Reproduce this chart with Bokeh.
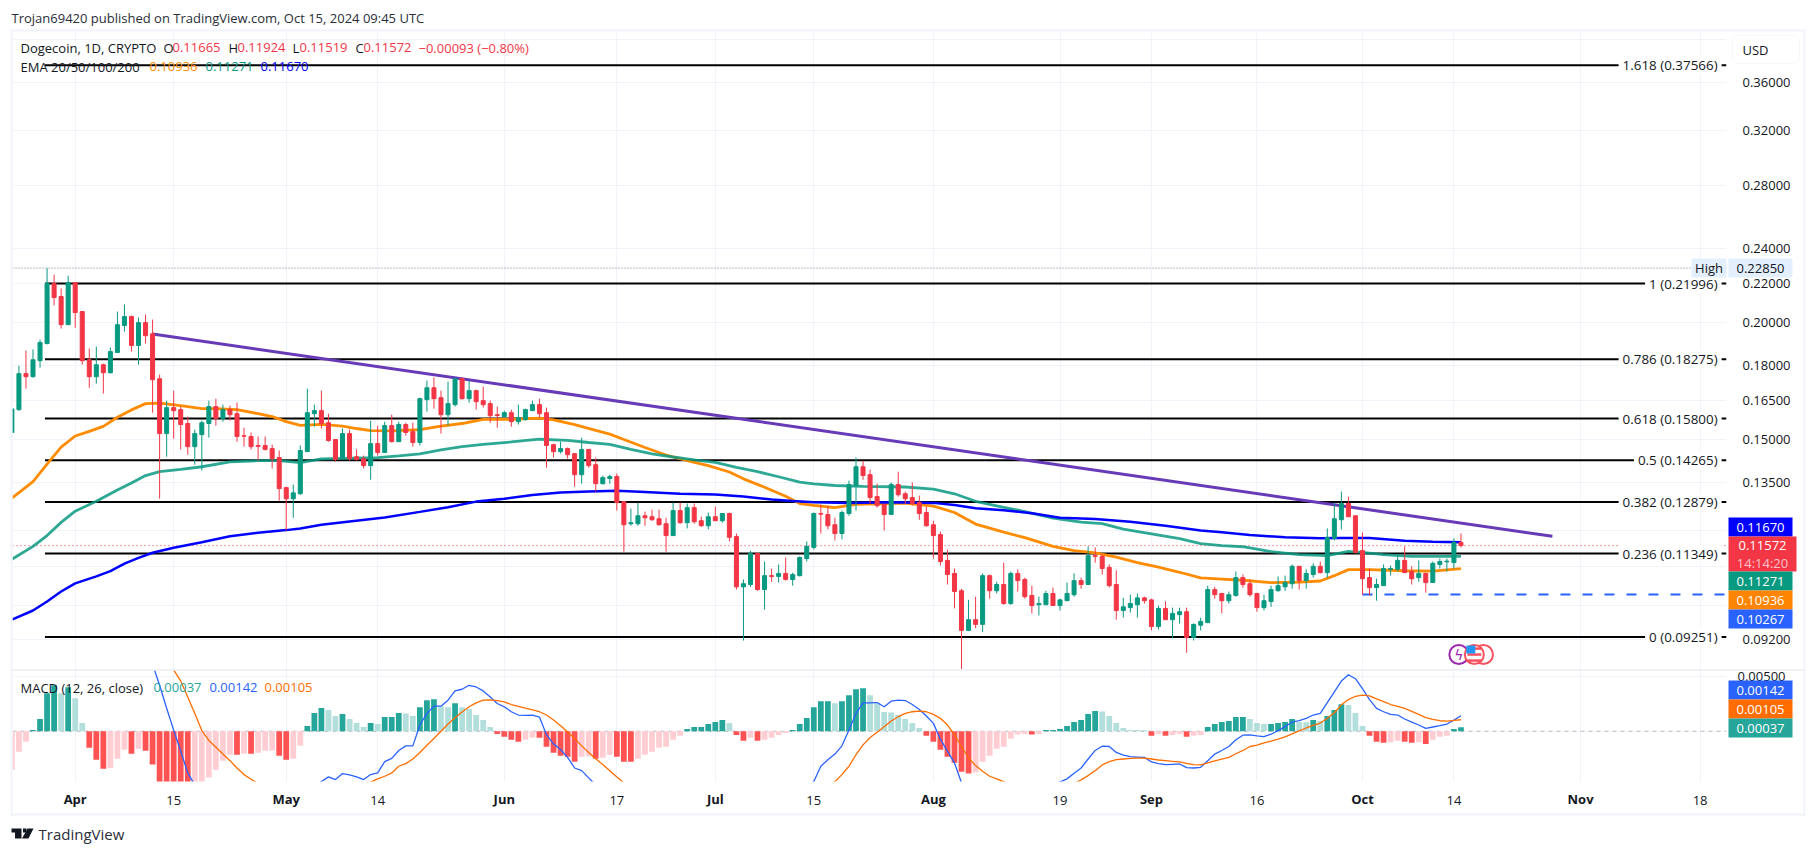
from bokeh.plotting import figure
from bokeh.layouts import column, row
from bokeh.embed import file_html
from bokeh.resources import INLINE
from bokeh.core.properties import value
from bokeh.models import (ColumnDataSource, FixedTicker, Grid, Label, BoxAnnotation,
                          PolyAnnotation, PrintfTickFormatter)

# ---- candles: one row of ten per block, first day = 23 Mar (day -9), day 0 = 1 Apr ----
first_day = -9
opens = [
 .1527,.1615,.1764,.1751,.1821,.1899,.2200,.2131,.1989,.2205,
 .2054,.1825,.1751,.1803,.1768,.1858,.1985,.2029,.1890,.1999,
 .1945,.1742,.1523,.1623,.1615,.1561,.1475,.1519,.1561,.1627,
 .1580,.1615,.1599,.1515,.1512,.1479,.1479,.1468,.1436,.1334,
 .1298,.1314,.1457,.1599,.1611,.1564,.1501,.1432,.1523,.1439,
 .1432,.1408,.1486,.1454,.1553,.1493,.1557,.1530,.1490,.1655,
 .1704,.1663,.1595,.1635,.1742,.1659,.1692,.1651,.1639,.1595,
 .1588,.1603,.1568,.1576,.1611,.1635,.1603,.1482,.1457,.1468,
 .1450,.1377,.1465,.1411,.1347,.1364,.1371,.1289,.1221,.1221,
 .1245,.1242,.1236,.1221,.1186,.1261,.1224,.1270,.1230,.1215,
 .1242,.1230,.1252,.1183,.1046,.1052,.1135,.1039,.1075,.1073,
 .1081,.1065,.1075,.1121,.1152,.1252,.1249,.1218,.1192,.1252,
 .1341,.1404,.1377,.1305,.1280,.1249,.1344,.1314,.1302,.1286,
 .1255,.1218,.1189,.1116,.1081,.1036,.0940,.0965,.0954,.1075,
 .1036,.1052,.1004,.1081,.1065,.1024,.1001,.1001,.1029,.0999,
 .1011,.1026,.1062,.1052,.1129,.1127,.1097,.1052,.0987,.0994,
 .1001,.1018,.1013,.0949,.0992,.0965,.0977,.0984,.0924,.0952,
 .0958,.1039,.1029,.1011,.1024,.1070,.1054,.1029,.0994,.1009,
 .1036,.1046,.1054,.1100,.1062,.1078,.1100,.1083,.1178,.1233,
 .1283,.1245,.1143,.1070,.1044,.1049,.1092,.1092,.1116,.1086,
 .1070,.1081,.1057,.1105,.1112,.1110,.11665]
highs = [
 .1618,.1799,.1867,.1872,.1918,.2285,.2249,.2173,.2243,.2205,
 .2054,.1876,.1885,.1808,.1881,.2054,.2090,.2034,.2024,.2039,
 .2014,.1760,.1651,.1692,.1627,.1588,.1538,.1572,.1651,.1659,
 .1635,.1631,.1643,.1545,.1527,.1512,.1512,.1482,.1461,.1337,
 .1344,.1479,.1700,.1635,.1692,.1599,.1501,.1542,.1538,.1465,
 .1443,.1572,.1553,.1568,.1595,.1568,.1564,.1564,.1663,.1734,
 .1747,.1692,.1730,.1742,.1747,.1734,.1696,.1709,.1651,.1627,
 .1611,.1615,.1635,.1619,.1651,.1659,.1623,.1486,.1493,.1472,
 .1450,.1508,.1465,.1436,.1374,.1377,.1381,.1289,.1267,.1286,
 .1258,.1264,.1264,.1239,.1286,.1286,.1283,.1283,.1242,.1255,
 .1273,.1252,.1255,.1192,.1065,.1143,.1138,.1113,.1094,.1105,
 .1124,.1083,.1127,.1169,.1255,.1280,.1276,.1239,.1261,.1357,
 .1436,.1425,.1394,.1347,.1280,.1351,.1387,.1321,.1351,.1308,
 .1273,.1230,.1198,.1146,.1094,.1041,.1013,.1021,.1081,.1078,
 .1059,.1110,.1086,.1092,.1070,.1049,.1021,.1036,.1044,.1016,
 .1057,.1081,.1070,.1155,.1152,.1135,.1105,.1089,.1018,.1026,
 .1029,.1021,.1016,.0999,.1009,.0994,.0994,.0994,.0956,.0970,
 .1049,.1046,.1031,.1034,.1086,.1078,.1065,.1031,.1026,.1049,
 .1073,.1075,.1105,.1100,.1092,.1108,.1113,.1207,.1286,.1321,
 .1305,.1245,.1195,.1094,.1067,.1105,.1102,.1132,.1155,.1100,
 .1116,.1083,.1113,.1121,.1121,.1178,.11924]
lows = [
 .1527,.1611,.1700,.1747,.1790,.1895,.2085,.1970,.1989,.1974,
 .1803,.1704,.1721,.1680,.1764,.1858,.1955,.1862,.1803,.1899,
 .1603,.1298,.1439,.1504,.1465,.1446,.1411,.1391,.1508,.1553,
 .1568,.1572,.1493,.1475,.1465,.1425,.1461,.1398,.1292,.1201,
 .1239,.1311,.1457,.1549,.1542,.1493,.1422,.1429,.1425,.1425,
 .1398,.1360,.1443,.1454,.1490,.1493,.1515,.1475,.1479,.1607,
 .1619,.1523,.1553,.1627,.1655,.1643,.1615,.1623,.1564,.1545,
 .1588,.1549,.1557,.1572,.1611,.1584,.1401,.1436,.1450,.1432,
 .1337,.1347,.1401,.1321,.1344,.1347,.1261,.1140,.1215,.1215,
 .1215,.1230,.1215,.1140,.1186,.1221,.1207,.1221,.1212,.1204,
 .1230,.1224,.1169,.1039,.0917,.1046,.1036,.0989,.1059,.1057,
 .1062,.1049,.1073,.1113,.1146,.1192,.1204,.1172,.1175,.1245,
 .1261,.1360,.1283,.1270,.1201,.1249,.1305,.1283,.1276,.1233,
 .1212,.1121,.1102,.1052,.0992,.0854,.0940,.0945,.0936,.1016,
 .1029,.1001,.1001,.1034,.1016,.0980,.0975,.1001,.0999,.0987,
 .1011,.1021,.1041,.1052,.1110,.1078,.1044,.0965,.0970,.0982,
 .0970,.1004,.0940,.0942,.0965,.0922,.0956,.0890,.0917,.0940,
 .0958,.1016,.0980,.1004,.1021,.1044,.1021,.0984,.0987,.0996,
 .1034,.1036,.1041,.1039,.1041,.1070,.1081,.1070,.1172,.1204,
 .1242,.1135,.1026,.1024,.1011,.1049,.1075,.1086,.1083,.1052,
 .1059,.1031,.1057,.1094,.1086,.1094,.11519]
closes = [
 .1618,.1764,.1751,.1825,.1904,.2200,.2126,.1989,.2205,.2049,
 .1821,.1751,.1803,.1768,.1862,.1989,.2029,.1890,.1999,.1936,
 .1738,.1523,.1623,.1611,.1557,.1475,.1523,.1564,.1627,.1580,
 .1615,.1595,.1512,.1513,.1475,.1476,.1465,.1432,.1331,.1298,
 .1317,.1461,.1603,.1611,.1561,.1497,.1429,.1523,.1432,.1429,
 .1408,.1486,.1454,.1553,.1493,.1557,.1527,.1490,.1659,.1704,
 .1659,.1595,.1639,.1742,.1659,.1692,.1647,.1635,.1591,.1592,
 .1603,.1568,.1584,.1615,.1635,.1599,.1479,.1457,.1468,.1446,
 .1377,.1465,.1408,.1347,.1367,.1371,.1286,.1218,.1224,.1245,
 .1239,.1233,.1218,.1186,.1261,.1224,.1270,.1227,.1215,.1242,
 .1230,.1252,.1181,.1046,.1054,.1135,.1039,.1075,.1073,.1081,
 .1065,.1078,.1124,.1155,.1252,.1250,.1215,.1192,.1255,.1344,
 .1404,.1374,.1302,.1276,.1249,.1344,.1311,.1298,.1283,.1252,
 .1215,.1186,.1113,.1078,.1034,.0940,.0965,.0954,.1075,.1036,
 .1052,.1004,.1081,.1062,.1021,.0999,.1004,.1029,.0999,.1013,
 .1029,.1062,.1052,.1129,.1127,.1094,.1049,.0987,.0996,.1004,
 .1018,.1011,.0949,.0992,.0965,.0980,.0984,.0924,.0954,.0961,
 .1039,.1026,.1011,.1026,.1070,.1052,.1026,.0994,.1011,.1039,
 .1049,.1057,.1100,.1062,.1081,.1100,.1083,.1181,.1236,.1283,
 .1242,.1138,.1067,.1044,.1052,.1094,.1094,.1116,.1083,.1067,
 .1081,.1057,.1108,.1113,.1114,.1166,.11572]

# ---- EMAs ----
ema_orange_days = [-9,-6,-4,-2,0,2,4,6,8,10,12,15,18,20,23,26,28,30,32,35,38,40,42,45,49,52,55,58,62,66,68,71,74,76,78,81,84,87,90,93,95,98,101,103,105,108,111,114,118,122,125,128,132,135,139,142,145,148,151,154,157,160,163,166,170,174,177,179,181,184,189,193,197]
ema_orange = [.1300,.1354,.1413,.1473,.1514,.1531,.1550,.1585,.1614,.1639,.1641,.1631,.1619,.1619,.1615,.1599,.1588,.1568,.1554,.1558,.1551,.1542,.1534,.1533,.1538,.1551,.1561,.1577,.1577,.1582,.1575,.1557,.1535,.1521,.1501,.1472,.1445,.1425,.1408,.1386,.1363,.1335,.1306,.1283,.1277,.1270,.1280,.1282,.1284,.1275,.1255,.1220,.1196,.1180,.1155,.1143,.1137,.1125,.1110,.1098,.1084,.1069,.1066,.1063,.1057,.1058,.1061,.1075,.1091,.1091,.1088,.1087,.10936]
ema_green_days = [-9,-6,-4,-2,0,3,6,8,10,12,15,18,22,26,29,32,35,38,43,46,49,52,55,58,62,66,70,73,76,79,82,85,88,91,94,97,100,103,105,108,112,118,122,125,128,132,135,139,143,146,149,153,157,160,163,166,170,174,178,181,183,186,190,197]
ema_green = [.1119,.1155,.1186,.1225,.1259,.1290,.1326,.1349,.1374,.1387,.1395,.1404,.1421,.1425,.1425,.1418,.1431,.1433,.1436,.1442,.1449,.1463,.1475,.1483,.1492,.1502,.1498,.1490,.1483,.1465,.1449,.1438,.1428,.1419,.1402,.1387,.1370,.1352,.1346,.1341,.1338,.1336,.1329,.1314,.1290,.1271,.1258,.1238,.1226,.1221,.1205,.1191,.1177,.1163,.1157,.1154,.1140,.1132,.1129,.1141,.1138,.1132,.1127,.11271]
ema_blue_days = [-9,-6,-4,-2,0,3,5,7,9,11,14,18,22,26,30,32,35,39,44,49,53,57,61,65,69,73,77,81,86,91,95,99,102,105,110,116,122,125,128,132,136,140,145,150,155,160,163,167,172,177,180,184,189,193,197]
ema_blue = [.0965,.0987,.1009,.1034,.1055,.1073,.1087,.1107,.1123,.1137,.1151,.1167,.1184,.1194,.1202,.1207,.1218,.1228,.1240,.1257,.1271,.1289,.1298,.1310,.1318,.1321,.1324,.1320,.1314,.1312,.1305,.1296,.1291,.1287,.1285,.1287,.1285,.1278,.1268,.1262,.1253,.1239,.1235,.1227,.1215,.1201,.1196,.1188,.1181,.1178,.1179,.1179,.1171,.1168,.11670]

# ---- Fibonacci levels and other price lines ----
fib_names = ["1.618","1","0.786","0.618","0.5","0.382","0.236","0"]
fib_prices = [.37566,.21996,.18275,.15800,.14265,.12879,.11349,.09251]
fib_text = ["1.618 (0.37566)","1 (0.21996)","0.786 (0.18275)","0.618 (0.15800)","0.5 (0.14265)","0.382 (0.12879)","0.236 (0.11349)","0 (0.09251)"]
trend_days = [11, 210]
trend_prices = [.1944, .1184]
last_price = .11572
high_price = .22850
support_price = .10267
support_start = 183

# ---- axis ticks ----
price_ticks = [.36,.32,.28,.24,.22,.20,.18,.165,.15,.135,.092]
price_grid = [.40,.36,.32,.28,.24,.22,.20,.18,.165,.15,.135,.12,.11,.10,.092]
day_ticks = [14,43,77,105,140,168,196,231]
day_labels = ["15","14","17","15","19","16","14","18"]
month_ticks = [0,30,61,91,122,153,183,214]
month_labels = ["Apr","May","Jun","Jul","Aug","Sep","Oct","Nov"]

# ---- MACD ----
macd_hist = [
 -.0035,-.00187,-.00096,.00012,.00112,.00347,.00419,.00347,.00401,.00301,
 .00075,-.00151,-.00259,-.00341,-.00336,-.00250,-.00169,-.00205,-.00160,-.00178,
 -.00304,-.0050,-.0053,-.0055,-.0056,-.0058,-.0054,-.0049,-.00422,-.00350,
 -.00268,-.00214,-.00214,-.00205,-.00205,-.00196,-.00178,-.00175,-.00223,-.00259,
 -.00250,-.00133,.00048,.00166,.00211,.00193,.00139,.00157,.00112,.00075,
 .00039,.00075,.00066,.00130,.00130,.00166,.00163,.00139,.00220,.00283,
 .00292,.00229,.00220,.00256,.00220,.00202,.00148,.00102,.00039,-.00024,
 -.00051,-.00078,-.00096,-.00078,-.00060,-.00060,-.00142,-.00196,-.00223,-.00232,
 -.00277,-.00232,-.00228,-.00250,-.00241,-.00214,-.00232,-.00277,-.00277,-.00250,
 -.00214,-.00187,-.00151,-.00142,-.00078,-.00042,.00021,.00039,.00039,.00066,
 .00084,.00102,.00075,-.00033,-.00087,-.00060,-.00087,-.00078,-.00060,-.00033,
 -.00015,.00012,.00066,.00121,.00220,.00274,.00274,.00256,.00274,.00329,
 .00383,.00392,.00329,.00256,.00175,.00170,.00148,.00112,.00075,.00030,
 -.00042,-.00096,-.00169,-.00232,-.00286,-.00368,-.00386,-.00377,-.00277,-.00223,
 -.00160,-.00142,-.00069,-.00030,-.00024,-.00030,-.00024,.00012,.00012,.00021,
 .00048,.00084,.00102,.00157,.00184,.00180,.00139,.00075,.00030,.00012,
 .00011,.00010,-.00042,-.00024,-.00042,-.00033,-.00024,-.00051,-.00042,-.00033,
 .00039,.00066,.00084,.00093,.00130,.00130,.00112,.00075,.00066,.00066,
 .00075,.00084,.00112,.00084,.00082,.00102,.00093,.00139,.00193,.00247,
 .00240,.00166,.00048,-.00042,-.00096,-.00105,-.00100,-.00087,-.00096,-.00105,
 -.00100,-.00115,-.00078,-.00051,-.00042,.00021,.00037]

macd_days = [8,10,11,12,13,14,15,16,17,18,25,30] + list(range(35,75)) + [80,90,100] + list(range(105,127)) + [130,135] + list(range(141,198))
macd_line = [.0075,.0064,.0061,.0042,.0021,.0001,-.0018,-.0038,-.0049,-.0055,-.0075,-.0068,
 -.00458,-.00416,-.00440,-.00386,-.00398,-.00416,-.00440,-.00395,-.00380,-.00277,-.00247,-.00175,-.00133,-.00133,.00057,.00163,.00229,.00229,.00283,.00368,.00383,.00419,.00404,.00368,.00313,.00253,
 .00223,.00178,.00148,.00145,.00148,.00130,-.00033,-.00115,-.00166,-.00238,-.00335,-.00359,-.00425,-.0049,
 -.0085,-.0080,-.0065,
 -.00458,-.00319,-.00259,-.00208,-.00133,.00012,.00163,.00259,.00259,.00262,.00223,.00274,.00283,.00280,.00244,.00199,.00139,.00072,-.00072,-.00184,-.00289,-.0047,
 -.0075,-.0060,
 -.00434,-.00383,-.00335,-.00253,-.00175,-.00136,-.00139,-.00193,-.00217,-.00232,-.00235,-.00238,-.00280,-.00295,-.00304,-.00301,-.00298,-.00332,-.00335,-.00329,-.00268,-.00208,-.00175,-.00139,-.00078,-.00036,-.00033,-.00042,-.00048,-.00027,.00006,.00042,.00084,.00096,.00118,.00148,.00163,.00262,.00359,.00458,.00515,.00479,.00389,.00289,.00208,.00178,.00154,.00148,.00112,.00084,.00057,.00027,.00039,.00051,.00066,.00102,.00142]

signal_days = [12,14] + list(range(15,27)) + [30,36,40] + list(range(42,79)) + [85,95,103] + list(range(108,134)) + [137,140] + list(range(142,198))
signal_line = [.0066,.0056,.00458,.00313,.00163,.00006,-.00084,-.00145,-.00208,-.00268,-.00335,-.00395,-.00437,-.00476,
 -.0058,-.0056,-.0050,
 -.00464,-.00434,-.00410,-.00380,-.00319,-.00295,-.00253,-.00193,-.00127,-.00066,.00000,.00066,.00124,.00175,.00223,.00259,.00283,.00286,.00280,
 .00268,.00244,.00226,.00211,.00196,.00178,.00148,.00102,.00051,-.00006,-.00066,-.00133,-.00193,-.00250,-.00304,-.00359,-.00416,-.0047,
 -.0065,-.0075,-.0060,
 -.0046,-.00395,-.00319,-.00214,-.00124,-.00057,-.00009,.00042,.00093,.00133,.00163,.00178,.00184,.00178,.00154,.00118,.00057,-.00033,-.00139,-.00244,-.00313,-.00365,-.00410,-.00434,-.0046,-.0049,
 -.0052,-.0049,
 -.00476,-.00443,-.00404,-.00359,-.00307,-.00277,-.00259,-.00253,-.00247,-.00244,-.00244,-.00253,-.00262,-.00268,-.00274,-.00280,-.00292,-.00304,-.00307,-.00289,-.00271,-.00253,-.00238,-.00205,-.00175,-.00139,-.00127,-.00105,-.00090,-.00072,-.00051,-.00024,.00003,.00030,.00054,.00075,.00118,.00169,.00241,.00289,.00319,.00329,.00322,.00295,.00271,.00244,.00226,.00208,.00181,.00154,.00124,.00109,.00096,.00093,.00099,.00105]

UP, DOWN = "#089981", "#f23645"
GRID = "#f0f3fa"
INK = "#131722"
FONT = "Open Sans"
W = 1806
x_lo, x_hi = -8.914, 234.75

days = list(range(first_day, first_day + len(opens)))
colors = [UP if c >= o else DOWN for o, c in zip(opens, closes)]
candles = ColumnDataSource(dict(day=days, o=opens, h=highs, l=lows, c=closes, color=colors))

# ---------------- main pane ----------------
p = figure(width=W, height=669, y_axis_type="log", x_range=(x_lo, x_hi), y_range=(.08541, .4081),
           x_axis_location=None, y_axis_location="right", toolbar_location=None,
           output_backend="svg", min_border_left=12, min_border_right=80, min_border_top=31, min_border_bottom=0)
p.outline_line_color = None
p.grid.grid_line_color = None
all_days = sorted(day_ticks + month_ticks)
p.add_layout(Grid(dimension=0, ticker=FixedTicker(ticks=all_days), grid_line_color=GRID, grid_line_width=1))
p.add_layout(Grid(dimension=1, ticker=FixedTicker(ticks=price_grid), grid_line_color=GRID, grid_line_width=1))
ax = p.yaxis[0]
ax.ticker = FixedTicker(ticks=price_ticks)
ax.formatter = PrintfTickFormatter(format="%.5f")
ax.axis_line_color = None
ax.major_tick_line_color = None
ax.minor_tick_line_color = None
ax.major_label_text_font = FONT
ax.major_label_text_font_size = "13px"
ax.major_label_text_color = INK
ax.major_label_standoff = 10

p.segment(x0=[x_lo], x1=[x_hi], y0=[high_price], y1=[high_price], line_color="#787b86", line_dash="1 2", line_width=1)
p.segment(x0=[x_lo], x1=[x_hi], y0=[last_price], y1=[last_price], line_color=DOWN, line_dash="1 3", line_width=1)

for name, price, label_text in zip(fib_names, fib_prices, fib_text):
    p.segment(x0=[-4.3], x1=[x_hi], y0=[price], y1=[price], line_color="black", line_width=2)
    p.add_layout(Label(x=234.05, y=price, text=label_text, text_align="right", text_baseline="middle",
                       text_font=FONT, text_font_size="13.4px", text_color=INK,
                       background_fill_color="white", padding=(4, 0)))

p.segment(x0=[support_start], x1=[x_hi], y0=[support_price], y1=[support_price],
          line_color="#2962ff", line_width=2, line_dash="10 12")
p.line(ema_orange_days, ema_orange, line_color="#ff8c00", line_width=2.8)
p.line(ema_green_days, ema_green, line_color="#089981", line_width=2.8, line_alpha=.85)
p.line(ema_blue_days, ema_blue, line_color="#0000ff", line_width=2.5)
p.line(trend_days, trend_prices, line_color="#673ab7", line_width=3)

p.segment(x0="day", x1="day", y0="l", y1="h", line_color="color", line_width=1, source=candles)
p.vbar(x="day", width=.57, bottom="o", top="c", fill_color="color", line_color="color", line_width=1, source=candles)

# event icons
ev_y = .0886
p.scatter([196.7], [ev_y], size=19, marker="circle", fill_color="white", line_color="#9c27b0", line_width=2)
p.text([196.7], [ev_y], text=["ϟ"], text_color="#9c27b0", text_align="center", text_baseline="middle",
       text_font=value("DejaVu Sans"), text_font_size="14px")
p.scatter([200.2], [ev_y], size=19, marker="circle", fill_color="white", line_color="#f7525f", line_width=2)
p.scatter([198.9], [ev_y], size=19, marker="circle", fill_color="white", line_color="#f7525f", line_width=2)
p.rect([198.9]*3, [.0899, .0886, .0873], width=14, height=2.5, width_units="screen", height_units="screen",
       fill_color="#f7525f", line_color=None)
p.rect([198.4], [.0897], width=9, height=8, width_units="screen", height_units="screen",
       fill_color="#2196f3", line_color=None)

# ---------------- MACD pane ----------------
m = figure(width=W, height=175, x_range=p.x_range, y_range=(-.00458, .00554), y_axis_location="right",
           toolbar_location=None, output_backend="svg",
           min_border_left=12, min_border_right=80, min_border_top=1, min_border_bottom=63)
m.outline_line_color = None
m.grid.grid_line_color = None
m.add_layout(Grid(dimension=0, ticker=FixedTicker(ticks=all_days), grid_line_color=GRID, grid_line_width=1))
m.add_layout(Grid(dimension=1, ticker=FixedTicker(ticks=[.005]), grid_line_color=GRID, grid_line_width=1))
m.yaxis[0].visible = False
ax2 = m.xaxis[0]
ax2.ticker = FixedTicker(ticks=day_ticks)
ax2.major_label_overrides = dict(zip(day_ticks, day_labels))
ax2.axis_line_color = None
ax2.major_tick_line_color = None
ax2.minor_tick_line_color = None
ax2.major_label_text_font = FONT
ax2.major_label_text_font_size = "13px"
ax2.major_label_text_color = INK
ax2.major_label_standoff = 8

def hist_color(i, v):
    prev = macd_hist[i-1] if i else None
    if v >= 0:
        return "#26a69a" if prev is not None and v >= prev else "#b2dfdb"
    return "#ff5252" if prev is not None and v <= prev else "#ffcdd2"

hist_colors = [hist_color(i, v) for i, v in enumerate(macd_hist)]
m.segment(x0=[x_lo], x1=[x_hi], y0=[0], y1=[0], line_color="#b2b5be", line_dash="4 4", line_width=1)
m.vbar(x=days, top=macd_hist, bottom=0, width=.82, fill_color=hist_colors, line_color=None)
m.line(macd_days, macd_line, line_color="#2962ff", line_width=1.3)
m.line(signal_days, signal_line, line_color="#ff6d00", line_width=1.3)

# ---------------- transparent sheet over both panes for the chart's furniture, in page pixels ----------------
o = figure(width=W, height=844, x_range=(0, W), y_range=(844, 0), x_axis_location=None, y_axis_location=None,
           toolbar_location=None, output_backend="svg", min_border=0,
           min_border_left=0, min_border_right=0, min_border_top=0, min_border_bottom=0, margin=(0, 0, 0, -W))
o.outline_line_color = None
o.grid.grid_line_color = None
o.background_fill_alpha = 0
o.border_fill_alpha = 0

def box(left, right, top, bottom, color=GRID, **kw):
    kw.setdefault("line_color", None)
    o.add_layout(BoxAnnotation(left=left, right=right, top=top, bottom=bottom, fill_color=color, fill_alpha=1, **kw))

def label(x, y, text, color=INK, size="13px", style="normal", align="left"):
    o.add_layout(Label(x=x, y=y, text=text, text_color=color, text_font=FONT, text_font_size=size,
                       text_font_style=style, text_align=align, text_baseline="middle"))

def tag(left, right, top, bottom, text, bg, color="white"):
    box(left, right, top, bottom, bg)
    label((left + right) / 2, (top + bottom) / 2, text, color=color, align="center")

box(10, 1805, 29, 31); box(10, 12, 29, 815); box(1803, 1805, 29, 815); box(10, 1805, 813, 815)
box(12, 1803, 669, 670, "#e0e3eb")

label(11, 17, "Trojan69420 published on TradingView.com, Oct 15, 2024 09:45 UTC", color="#2a2e39")
label(20, 47, "Dogecoin, 1D, CRYPTO")
red = DOWN
for x, t, c in [(163,"O",INK),(172,"0.11665",red),(228,"H",INK),(237,"0.11924",red),(292,"L",INK),(299,"0.11519",red),
                (355,"C",INK),(363,"0.11572",red),(418,"−0.00093 (−0.80%)",red)]:
    label(x, 47, t, color=c)
label(20, 66, "EMA 20/50/100/200")
label(149, 66, "0.10936", color="#ff8c00")
label(205, 66, "0.11271", color="#089981")
label(260, 66, "0.11670", color="#0000ff")

box(1732, 1799, 35, 63, "white", line_color="#e0e3eb", line_width=1, border_radius=6)
label(1742, 49, "USD")
tag(1691, 1726, 258, 277, "High", "#e3effd", INK)
tag(1728, 1792, 258, 277, "0.22850", "#e3effd", INK)
tag(1728, 1792, 517, 536, "0.11670", "#0000ff")
box(1728, 1796, 536, 571, DOWN)
label(1762, 545, "0.11572", color="white", align="center")
label(1762, 562, "14:14:20", color="#ffc4c9", align="center")
tag(1728, 1792, 571, 590, "0.11271", "#089981")
tag(1728, 1792, 590, 609, "0.10936", "#ff8400")
tag(1728, 1792, 609, 628, "0.10267", "#2962ff")

label(20, 687, "MACD (12, 26, close)")
label(153, 687, "0.00037", color="#26a69a")
label(209, 687, "0.00142", color="#2962ff")
label(264, 687, "0.00105", color="#ff6d00")
label(1737, 676, "0.00500")
tag(1728, 1792, 680, 699, "0.00142", "#2962ff")
tag(1728, 1792, 699, 718, "0.00105", "#ff6d00")
tag(1728, 1792, 718, 737, "0.00037", "#26a69a")

px_per_day = 1714 / (x_hi - x_lo)
for d, t in zip(month_ticks, month_labels):
    label(12 + (d - x_lo) * px_per_day, 798, t, align="center", style="bold")

label(38, 833, "TradingView", color="#2a2e39", size="15px")
for xs, ys in [([11,21,21,14.5,14.5,11], [828,828,838,838,832,832]), ([27,33,28,21.5], [828,828,838,838])]:
    o.add_layout(PolyAnnotation(xs=xs, ys=ys, fill_color="#131722", fill_alpha=1, line_color=None))
box(22.5, 26, 828, 832, "#131722")

layout = row(column(p, m, spacing=0), o, spacing=0)
open("out.html", "w").write(file_html(layout, INLINE))
